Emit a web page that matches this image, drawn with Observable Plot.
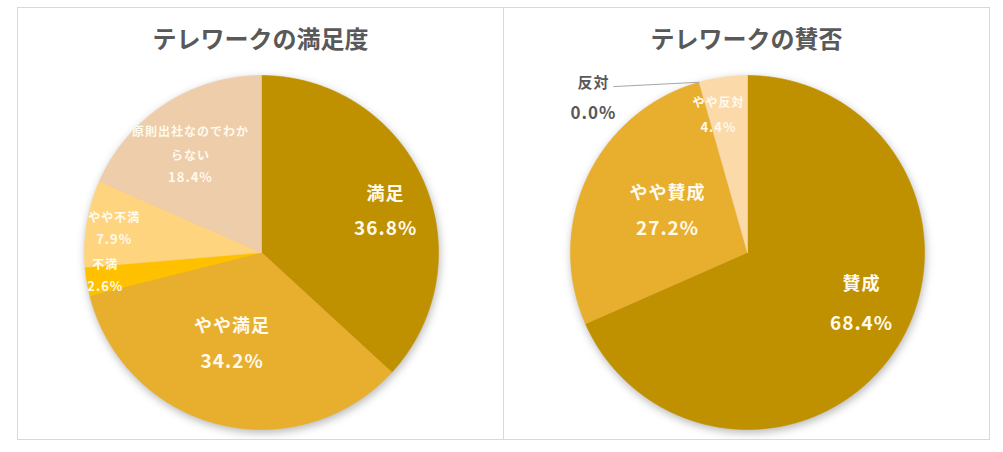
<!DOCTYPE html>
<html><head><meta charset="utf-8">
<script src="https://cdn.jsdelivr.net/npm/d3@7"></script>
<script src="https://cdn.jsdelivr.net/npm/@observablehq/plot@0.6"></script>
<style>
body{margin:0;background:#fff;font-family:"Noto Sans CJK JP","Noto Sans",sans-serif;}
#frame{position:absolute;left:17px;top:7px;width:973px;height:433px;border:1px solid #d9d9d9;box-sizing:border-box;display:flex;}
.panel{height:431px;overflow:hidden;}
.panel.left{width:486px;border-right:1px solid #d9d9d9;box-sizing:border-box;}
.panel.right{width:485px;}
.title{height:60px;line-height:60px;text-align:center;font-size:24px;font-weight:700;color:#595959;}
svg text{letter-spacing:1px;}
g[aria-label="line"]{filter:drop-shadow(1px 3px 4px rgba(0,0,0,0.28));}
</style></head>
<body>
<div id="frame">
  <div class="panel left"><div class="title">テレワークの満足度</div><div id="chart1"></div></div>
  <div class="panel right"><div class="title">テレワークの賛否</div><div id="chart2"></div></div>
</div>
<script>
// ---- data ----
const satisfactionCategories = ["満足", "やや満足", "不満", "やや不満", "原則出社なのでわからない"];
const satisfactionValues = [36.8, 34.2, 2.6, 7.9, 18.4];
const approvalCategories = ["賛成", "やや賛成", "反対", "やや反対"];
const approvalValues = [68.4, 27.2, 0.0, 4.4];

// ---- styles ----
const satisfactionColors = ["#BF9000", "#E8AE2E", "#FFC000", "#FFD47F", "#EDCDAA"];
const approvalColors = ["#BF9000", "#E8AE2E", "#A6A6A6", "#FCD9A8"];
const insideText = "#FFFAEC";
const outsideText = "#595959";

// label layout (radius fraction, angle tweak in degrees, font sizes, line gap)
const satisfactionLabelLayout = [
  {r: 0.739, da: 5.3, ns: 18, ps: 19, gap: 35},
  {r: 0.542, da: 3.6, ns: 18, ps: 19, gap: 37},
  {r: 0.892, da: 1.0, ns: 12, ps: 13, gap: 22},
  {r: 0.843, da: -0.3, ns: 12, ps: 13, gap: 22},
  {r: 0.63, da: -6.4, ns: 12, ps: 13, gap: 22, text: "原則出社なのでわか\nらない", lh: 2}
];
const approvalLabelLayout = [
  {r: 0.706, da: -9.0, ns: 18, ps: 19, gap: 40},
  {r: 0.51, da: 2.5, ns: 18, ps: 19, gap: 36},
  {r: 1.232, da: -29.1, ns: 15, ps: 17, gap: 31, outside: true, leader: {r1: 1.205, da1: -23.1}},
  {r: 0.794, da: -4.0, ns: 12, ps: 13, gap: 25}
];

const W = 485, H = 371, R = 177, CY = 184;
const deg = Math.PI / 180;

function pie(el, categories, values, colors, layout, cx) {
  const total = d3.sum(values);
  let acc = 0;
  const slices = categories.map((c, i) => {
    const a0 = acc / total * 2 * Math.PI;
    acc += values[i];
    const a1 = acc / total * 2 * Math.PI;
    return {c, v: values[i], a0, a1, i};
  });
  const pts = [];
  for (const s of slices) {
    if (s.v <= 0) continue;
    pts.push({c: s.c, x: 0, y: 0});
    const n = Math.max(2, Math.ceil((s.a1 - s.a0) / (0.5 * deg)));
    for (let k = 0; k <= n; k++) {
      const a = s.a0 + (s.a1 - s.a0) * k / n;
      pts.push({c: s.c, x: Math.sin(a), y: Math.cos(a)});
    }
    pts.push({c: s.c, x: 0, y: 0});
  }
  const marks = [
    Plot.line(pts, {x: "x", y: "y", z: "c", fill: "c", stroke: "c", strokeWidth: 0.6})
  ];
  for (const s of slices) {
    const L = layout[s.i];
    const a = (s.a0 + s.a1) / 2 + L.da * deg;
    const d = [{x: L.r * Math.sin(a), y: L.r * Math.cos(a), name: L.text || s.c, pct: s.v.toFixed(1) + "%"}];
    const fill = L.outside ? outsideText : insideText;
    if (L.leader) {
      const a1 = (s.a0 + s.a1) / 2 + L.leader.da1 * deg;
      const a2 = (s.a0 + s.a1) / 2;
      marks.push(Plot.link([{x1: L.leader.r1 * Math.sin(a1), y1: L.leader.r1 * Math.cos(a1), x2: Math.sin(a2), y2: Math.cos(a2)}],
        {x1: "x1", y1: "y1", x2: "x2", y2: "y2", stroke: "#A6A6A6", strokeWidth: 1}));
    }
    marks.push(Plot.text(d, {x: "x", y: "y", text: "name", fill, fontSize: L.ns, fontWeight: 700,
      lineAnchor: "bottom", lineHeight: L.lh || 1, dy: -L.gap / 2 + 0.36 * L.ns}));
    marks.push(Plot.text(d, {x: "x", y: "y", text: "pct", fill, fontSize: L.ps, fontWeight: 700,
      lineAnchor: "middle", dy: L.gap / 2}));
  }
  const chart = Plot.plot({
    width: W, height: H, margin: 0,
    x: {domain: [-cx / R, (W - cx) / R], range: [0, W], axis: null},
    y: {domain: [-(H - CY) / R, CY / R], range: [H, 0], axis: null},
    color: {domain: categories, range: colors},
    style: {fontFamily: '"Noto Sans CJK JP","Noto Sans",sans-serif', overflow: "visible", background: "transparent"},
    marks
  });
  document.getElementById(el).appendChild(chart);
}

pie("chart1", satisfactionCategories, satisfactionValues, satisfactionColors, satisfactionLabelLayout, 243);
pie("chart2", approvalCategories, approvalValues, approvalColors, approvalLabelLayout, 243);
</script>
</body></html>
